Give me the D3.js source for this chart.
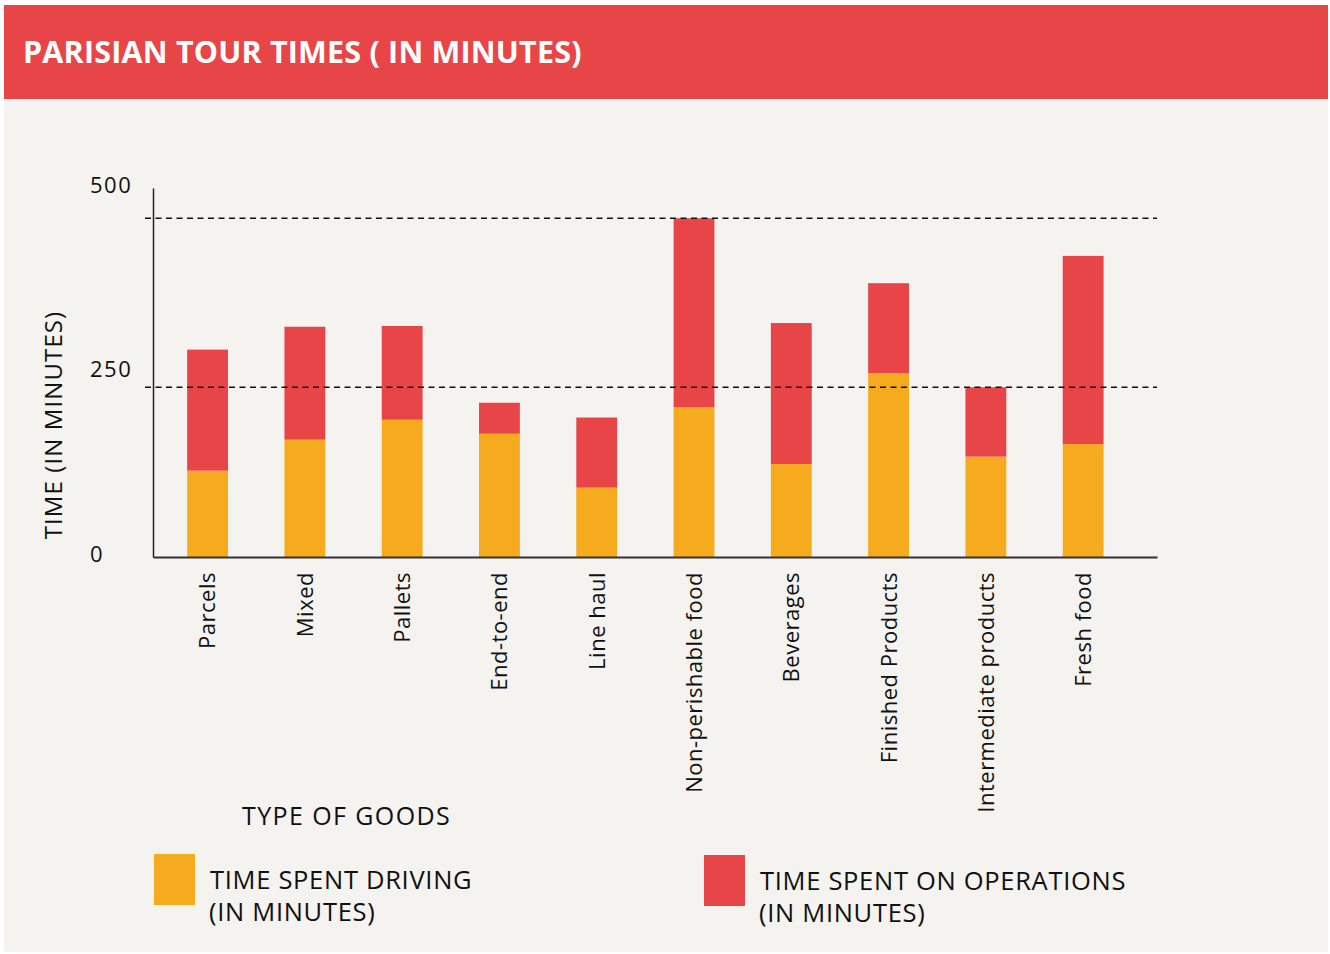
<!DOCTYPE html>
<meta charset="utf-8">
<style>
body {
  margin: 0;
  background: #fff;
  font-family: "Open Sans", sans-serif;
}
.tick text {
  fill: #111;
}
</style>
<svg></svg>
<script src="https://cdnjs.cloudflare.com/ajax/libs/d3/7.8.5/d3.min.js"></script>
<script>

// data
var categories = ["Parcels", "Mixed", "Pallets", "End-to-end", "Line haul",
    "Non-perishable food", "Beverages", "Finished Products",
    "Intermediate products", "Fresh food"];
var driving = [117, 159, 186, 167, 94, 203, 126, 249, 136, 153];
var operations = [164, 153, 127, 42, 95, 256, 191, 122, 94, 255];
var yTicks = [0, 250, 500];
var refLines = [230, 459];
var seriesNames = ["TIME SPENT DRIVING", "TIME SPENT ON OPERATIONS"];

var width = 1330,
    height = 954;

var red = "#e84548",
    orange = "#f6ab1e";

var svg = d3.select("svg")
    .attr("width", width)
    .attr("height", height);

// panel + header
svg.append("rect")
    .attr("x", 4).attr("y", 5)
    .attr("width", 1324).attr("height", 947)
    .attr("fill", "#f4f3ef");

svg.append("rect")
    .attr("x", 4).attr("y", 5)
    .attr("width", 1324).attr("height", 94)
    .attr("fill", red);

svg.append("text")
    .attr("x", 23).attr("y", 63)
    .attr("fill", "#fff")
    .style("font-size", "30.5px")
    .style("font-weight", 700)
    .style("letter-spacing", "0.2px")
    .text("PARISIAN TOUR TIMES ( IN MINUTES)");

var x = d3.scaleBand()
    .domain(categories)
    .range([153, 1157])
    .paddingInner(0.58)
    .paddingOuter(0.45)
    .align(0.39);

var y = d3.scaleLinear()
    .domain([0, 500])
    .range([557, 188]);

var rows = categories.map(function(c, i) {
  return { name: c, driving: driving[i], operations: operations[i] };
});

var stack = d3.stack().keys(["driving", "operations"])(rows);
var colors = [orange, red];

svg.append("g")
  .selectAll("g")
    .data(stack)
  .enter().append("g")
    .attr("fill", function(d, i) { return colors[i]; })
  .selectAll("rect")
    .data(function(d) { return d; })
  .enter().append("rect")
    .attr("x", function(d) { return x(d.data.name); })
    .attr("width", x.bandwidth())
    .attr("y", function(d) { return y(d[1]); })
    .attr("height", function(d) { return y(d[0]) - y(d[1]); });

// dashed reference lines, on top of the bars
svg.append("g")
  .selectAll("line")
    .data(refLines)
  .enter().append("line")
    .attr("x1", 145).attr("x2", 1157)
    .attr("y1", function(d) { return y(d); })
    .attr("y2", function(d) { return y(d); })
    .attr("stroke", "#111")
    .attr("stroke-width", 1.3)
    .attr("stroke-dasharray", "6,4.5");

// y axis, labels left-aligned
var yAxis = svg.append("g")
    .attr("transform", "translate(153,0)")
    .call(d3.axisLeft(y).tickValues(yTicks).tickSize(0));

yAxis.select(".domain").attr("stroke", "#222").attr("stroke-width", 1.5);
yAxis.selectAll(".tick text")
    .attr("text-anchor", "start")
    .attr("x", -63)
    .attr("dy", "0.32em")
    .attr("y", -3)
    .style("font-size", "22px")
    .style("letter-spacing", "1.5px")
    .style("font-family", "'Open Sans', sans-serif");

// x axis
var xAxis = svg.append("g")
    .attr("transform", "translate(0,557)")
    .call(d3.axisBottom(x).tickSize(0).tickSizeOuter(0));

xAxis.select(".domain").attr("stroke", "#333").attr("stroke-width", 1.8);
xAxis.selectAll(".tick text")
    .attr("transform", "rotate(-90)")
    .attr("text-anchor", "end")
    .attr("x", -15)
    .attr("y", 0)
    .attr("dy", "0.36em")
    .style("font-size", "22px")
    .style("letter-spacing", "0.5px")
    .style("font-family", "'Open Sans', sans-serif");

// axis titles
svg.append("text")
    .attr("transform", "translate(62,425) rotate(-90)")
    .attr("text-anchor", "middle")
    .attr("fill", "#111")
    .style("font-size", "24px")
    .style("letter-spacing", "1.1px")
    .text("TIME (IN MINUTES)");

svg.append("text")
    .attr("x", 242).attr("y", 825)
    .attr("fill", "#111")
    .style("font-size", "25px")
    .style("letter-spacing", "1.4px")
    .text("TYPE OF GOODS");

// legend
var legend = svg.append("g")
  .selectAll("g")
    .data(seriesNames)
  .enter().append("g")
    .attr("transform", function(d, i) { return "translate(" + [154, 704][i] + "," + [854, 855][i] + ")"; });

legend.append("rect")
    .attr("width", 41)
    .attr("height", 51)
    .attr("fill", function(d, i) { return colors[i]; });

var lt = legend.append("text")
    .attr("fill", "#111")
    .style("font-size", "25.5px")
    .style("letter-spacing", "0.7px");

lt.append("tspan")
    .attr("x", 56).attr("y", 35)
    .text(function(d) { return d; });

lt.append("tspan")
    .attr("x", 55).attr("y", 67)
    .text("(IN MINUTES)");

</script>
